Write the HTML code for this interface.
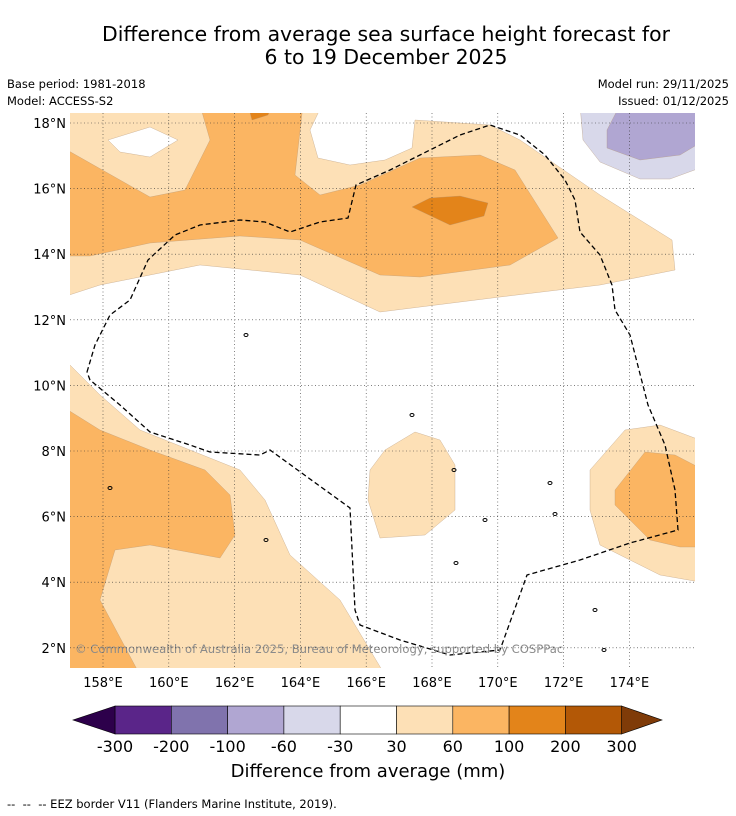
<!DOCTYPE html>
<html><head><meta charset="utf-8">
<style>
body{margin:0;background:#fff;font-family:"DejaVu Sans","Liberation Sans",sans-serif;}
#wrap{position:relative;width:736px;height:816px;overflow:hidden;}
.t{position:absolute;white-space:nowrap;color:#000;}
</style></head><body>
<div id="wrap">
<div class="t" style="left:0;width:772px;text-align:center;top:23px;font-size:20.4px;line-height:23px;">Difference from average sea surface height forecast for<br>6 to 19 December 2025</div>
<div class="t" style="left:7px;top:77px;font-size:11.5px;">Base period: 1981-2018</div>
<div class="t" style="left:7px;top:94px;font-size:11.5px;">Model: ACCESS-S2</div>
<div class="t" style="right:7px;top:77px;font-size:11.5px;">Model run: 29/11/2025</div>
<div class="t" style="right:7px;top:94px;font-size:11.5px;">Issued: 01/12/2025</div>
<svg id="svg" width="736" height="816" style="position:absolute;left:0;top:0"></svg>
<div class="t" style="left:0;width:736px;text-align:center;top:761px;font-size:18px;">Difference from average (mm)</div>
<div class="t" style="left:7px;top:797px;font-size:11.5px;">-- &nbsp;-- &nbsp;-- EEZ border V11 (Flanders Marine Institute, 2019).</div>
</div>
<script>
const lonTicks=[158,160,162,164,166,168,170,172,174];
const latTicks=[18,16,14,12,10,8,6,4,2];
const levels=["-300","-200","-100","-60","-30","30","60","100","200","300"];
const levelColors=["#5a2589","#8073ad","#b0a6d2","#d8d8ea","#ffffff","#fde0b6","#fbb562","#e3841a","#b35806"];
const X0=70,X1=695,Y0=113,Y1=668;
const FF='DejaVu Sans, Liberation Sans, sans-serif';
function xs(lon){return 103+(lon-158)*32.9;}
function ys(lat){return 123+(18-lat)*32.8;}
const NS="http://www.w3.org/2000/svg";
const svg=document.getElementById('svg');
function el(tag,attrs,parent){const e=document.createElementNS(NS,tag);for(const k in attrs)e.setAttribute(k,attrs[k]);(parent||svg).appendChild(e);return e;}
const defs=el('defs',{});const cp=el('clipPath',{id:'mc'},defs);el('rect',{x:X0,y:Y0,width:X1-X0,height:Y1-Y0},cp);
const g=el('g',{'clip-path':'url(#mc)'});
const shapes=[
 ["light-top","#fde0b6",[[60,105],[322,105],[310,130],[318,158],[350,165],[385,160],[412,148],[415,120],[490,125],[520,140],[600,195],[672,240],[675,270],[600,285],[500,297],[380,312],[300,275],[200,265],[100,285],[60,298]]],
 ["white-hole-top-left","#ffffff",[[108,140],[150,127],[178,140],[150,157],[120,152]]],
 ["medium-top","#fbb562",[[60,146],[150,197],[185,190],[210,140],[200,105],[303,105],[295,175],[320,195],[360,185],[420,158],[480,155],[515,170],[558,238],[510,265],[420,277],[380,275],[300,240],[240,236],[150,243],[90,256],[60,256]]],
 ["dark-top","#e3841a",[[248,105],[272,105],[268,115],[252,120]]],
 ["dark-blob","#e3841a",[[412,207],[430,198],[460,196],[488,203],[484,216],[450,225]]],
 ["light-lower-left","#fde0b6",[[60,355],[100,395],[140,430],[190,450],[240,470],[265,500],[290,555],[340,600],[385,675],[60,675]]],
 ["medium-lower-left","#fbb562",[[60,405],[100,430],[150,450],[205,470],[230,495],[235,535],[220,558],[150,545],[115,550],[100,600],[140,675],[60,675]]],
 ["light-middle","#fde0b6",[[370,470],[385,450],[415,432],[440,440],[455,465],[455,510],[425,535],[380,538],[368,500]]],
 ["light-right","#fde0b6",[[590,470],[625,430],[660,425],[700,440],[700,582],[660,575],[600,545],[590,510]]],
 ["medium-right","#fbb562",[[615,490],[645,452],[675,455],[700,468],[700,547],[680,547],[650,540],[615,505]]],
 ["purple-light","#d8d8ea",[[580,105],[700,105],[700,168],[670,179],[640,179],[600,162],[583,140]]],
 ["purple-medium","#b0a6d2",[[607,130],[620,105],[700,105],[700,143],[680,155],[640,160],[607,148]]]
];
shapes.forEach(s=>{const p=el('polygon',{points:s[2].map(q=>q.join(',')).join(' '),fill:s[1],stroke:'#b09070','stroke-width':0.3},g);

});
lonTicks.forEach(v=>{const l=el('line',{x1:xs(v),x2:xs(v),y1:Y0,y2:Y1,stroke:'#333','stroke-width':0.6,'stroke-dasharray':'1,2.5'});


const t=el('text',{x:xs(v),y:Y1+19,'font-size':13,'text-anchor':'middle','font-family':FF});t.textContent=v+'°E';

});
latTicks.forEach(v=>{const l=el('line',{x1:X0,x2:X1,y1:ys(v),y2:ys(v),stroke:'#333','stroke-width':0.6,'stroke-dasharray':'1,2.5'});


const t=el('text',{x:X0-4,y:ys(v)+5,'font-size':13,'text-anchor':'end','font-family':FF});t.textContent=v+'°N';

});
const eez=[[87,372],[95,345],[110,315],[130,300],[148,260],[175,235],[200,225],[240,220],[265,222],[290,232],[320,222],[348,218],[356,185],[390,170],[420,155],[460,135],[490,125],[520,135],[545,155],[565,180],[575,200],[580,232],[600,255],[612,285],[615,310],[630,335],[648,405],[665,445],[675,490],[678,530],[630,543],[580,560],[527,575],[500,650],[450,655],[400,640],[360,625],[355,610],[350,508],[270,450],[260,455],[210,452],[190,445],[150,432],[120,405],[90,380],[87,372]];
const ez=el('polyline',{points:eez.map(q=>q.join(',')).join(' '),fill:'none',stroke:'#000','stroke-width':1.3,'stroke-dasharray':'5,3'},g);


[[110,488],[266,540],[454,470],[550,483],[595,610],[485,520],[456,563],[555,514],[604,650],[412,415],[246,335]].forEach(p=>{const c=el('ellipse',{cx:p[0],cy:p[1],rx:2,ry:1.5,fill:'none',stroke:'#000','stroke-width':1},g);

});
const cr=el('text',{x:75,y:653,'font-size':11.6,fill:'#8a8a8a','font-family':FF},g);cr.textContent='© Commonwealth of Australia 2025, Bureau of Meteorology, supported by COSPPac';


const CB0=115,CBW=56.3,CY=706,CH=28;
levelColors.forEach((c,i)=>{const r=el('rect',{x:CB0+i*CBW,y:CY,width:CBW,height:CH,fill:c,stroke:'#000','stroke-width':0.6});

});
const lt=el('polygon',{points:`${CB0},${CY} 73,${CY+CH/2} ${CB0},${CY+CH}`,fill:'#2d004b',stroke:'#000','stroke-width':0.6});


const hx=CB0+levelColors.length*CBW;
const rt=el('polygon',{points:`${hx},${CY} 662,${CY+CH/2} ${hx},${CY+CH}`,fill:'#7f3b08',stroke:'#000','stroke-width':0.6});


levels.forEach((v,i)=>{const t=el('text',{x:CB0+i*CBW,y:752,'font-size':16,'text-anchor':'middle','font-family':FF});t.textContent=v;

});
</script>
</body></html>
